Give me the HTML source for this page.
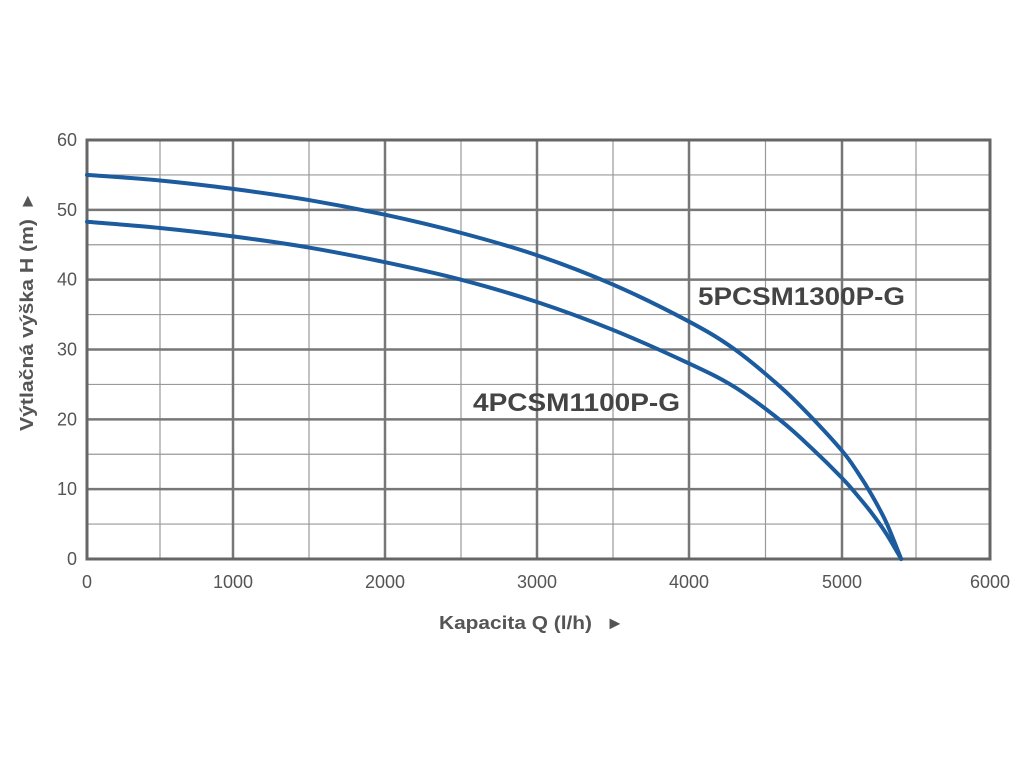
<!DOCTYPE html>
<html><head><meta charset="utf-8"><style>
html,body{margin:0;padding:0;background:#fff;width:1024px;height:768px;overflow:hidden}
svg{display:block}
text{font-family:"Liberation Sans",sans-serif}
</style></head><body>
<svg id="s" width="1024" height="768" viewBox="0 0 1024 768" xmlns="http://www.w3.org/2000/svg">
<g id="grid"></g>
<g id="curves"></g>
<text x="698" y="305" font-size="25" font-weight="bold" fill="#444" textLength="207" lengthAdjust="spacingAndGlyphs">5PCSM1300P-G</text>
<text x="473" y="411" font-size="25" font-weight="bold" fill="#444" textLength="207" lengthAdjust="spacingAndGlyphs">4PCSM1100P-G</text>
<text x="439" y="629" font-size="18" font-weight="bold" fill="#555" textLength="153" lengthAdjust="spacingAndGlyphs">Kapacita Q (l/h)</text>
<text x="606" y="629" font-size="18" fill="#555">►</text>
<text transform="translate(33,431) rotate(-90)" font-size="18" font-weight="bold" fill="#555" textLength="212" lengthAdjust="spacingAndGlyphs">Výtlačná výška H (m)</text>
<text transform="translate(33,210) rotate(-90)" font-size="18" fill="#555">►</text>
</svg>
<script>
const X=[87,233,385,537,689,842,990];
function xq(q){const i=Math.min(5,Math.floor(q/1000));return X[i]+(X[i+1]-X[i])*(q/1000-i);}
function yh(h){return 559-h*(419/60);}
let g='';
for(let q=500;q<6000;q+=1000){const x=xq(q);g+=`<line x1="${x}" y1="140" x2="${x}" y2="559" stroke="#999" stroke-width="1.2"/>`;}
for(let h=5;h<60;h+=10){const y=yh(h);g+=`<line x1="87" y1="${y}" x2="990" y2="${y}" stroke="#999" stroke-width="1.2"/>`;}
for(let i=1;i<6;i++){g+=`<line x1="${X[i]}" y1="140" x2="${X[i]}" y2="559" stroke="#777" stroke-width="2.5"/>`;}
for(let h=10;h<60;h+=10){const y=yh(h);g+=`<line x1="87" y1="${y}" x2="990" y2="${y}" stroke="#777" stroke-width="2.5"/>`;}
g+=`<rect x="87" y="140" width="903" height="419" fill="none" stroke="#666" stroke-width="3"/>`;
for(let i=0;i<=6;i++){g+=`<text x="${X[i]}" y="588" font-size="18" fill="#555" text-anchor="middle">${i*1000}</text>`;}
for(let h=0;h<=60;h+=10){g+=`<text x="77" y="${yh(h)+6}" font-size="18" fill="#555" text-anchor="end">${h}</text>`;}
document.getElementById('grid').innerHTML=g;
function curve(pts){
  const P=pts.map(p=>[xq(p[0]),yh(p[1])]);
  let d=`M${P[0][0]},${P[0][1]}`;
  for(let i=0;i<P.length-1;i++){
    const p0=P[Math.max(0,i-1)],p1=P[i],p2=P[i+1],p3=P[Math.min(P.length-1,i+2)];
    const c1=[p1[0]+(p2[0]-p0[0])/6,p1[1]+(p2[1]-p0[1])/6];
    const c2=[p2[0]-(p3[0]-p1[0])/6,p2[1]-(p3[1]-p1[1])/6];
    d+=` C${c1},${c2},${p2}`;
  }
  return `<path d="${d}" fill="none" stroke="#1b5b9e" stroke-width="4" stroke-linecap="round"/>`;
}
const up=[[0,55],[500,54.2],[1000,53],[1500,51.4],[2000,49.3],[2500,46.7],[3000,43.5],[3500,39.3],[4000,34],[4300,30],[4600,24.6],[4800,20.3],[5000,15.5],[5100,12.6],[5200,9.2],[5300,5.2],[5400,0]];
const lo=[[0,48.3],[500,47.4],[1000,46.2],[1500,44.6],[2000,42.5],[2500,40],[3000,36.8],[3500,32.8],[4000,28],[4300,24.6],[4600,19.8],[4800,15.9],[5000,11.6],[5100,9.2],[5200,6.6],[5300,3.6],[5400,0]];
document.getElementById('curves').innerHTML=curve(up)+curve(lo);
</script>
</body></html>
